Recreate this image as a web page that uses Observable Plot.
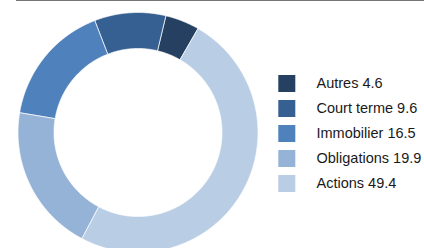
<!DOCTYPE html>
<html>
<head>
<meta charset="utf-8">
<script src="https://cdn.jsdelivr.net/npm/d3@7"></script>
<script src="https://cdn.jsdelivr.net/npm/@observablehq/plot@0.6"></script>
<style>
  html, body { margin: 0; padding: 0; background: #fff; }
  #wrap { position: relative; width: 424px; height: 248px; overflow: hidden; background: #fff; }
  #topline { position: absolute; left: 16px; top: 0; width: 408px; height: 0; border-top: 1.5px solid #767676; }
  #pie, #legend { position: absolute; top: 0; }
  #pie { left: 0; }
  #legend { left: 270px; }
</style>
</head>
<body>
<div id="wrap">
  <div id="pie"></div>
  <div id="legend"></div>
  <div id="topline"></div>
</div>
<script>
const categories = ["Autres", "Court terme", "Immobilier", "Obligations", "Actions"];
const values = [4.6, 9.6, 16.5, 19.9, 49.4];
const palette = ["#254061", "#376092", "#4F81BD", "#95B3D7", "#B9CDE5"];

const startAngle = 30;     // degrees clockwise from top
const innerRatio = 0.7;
const total = d3.sum(values);

// Build slice polygons (counter-clockwise from startAngle, in category order)
const pts = [];
let cum = 0;
categories.forEach((cat, i) => {
  const a0 = startAngle - cum / total * 360;
  const a1 = startAngle - (cum + values[i]) / total * 360;
  cum += values[i];
  const n = Math.max(4, Math.ceil(Math.abs(a1 - a0) * 2));
  const poly = [];
  for (let k = 0; k <= n; k++) {
    const a = (a0 + (a1 - a0) * k / n) * Math.PI / 180;
    poly.push({cat, x: Math.sin(a), y: Math.cos(a)});
  }
  for (let k = n; k >= 0; k--) {
    const a = (a0 + (a1 - a0) * k / n) * Math.PI / 180;
    poly.push({cat, x: innerRatio * Math.sin(a), y: innerRatio * Math.cos(a)});
  }
  poly.push({...poly[0]});
  pts.push(...poly);
});

const cx = 137.5, cy = 132, R = 120;
const pie = Plot.plot({
  width: 270,
  height: 248,
  margin: 0,
  style: {background: "transparent"},
  x: {domain: [-1, 1], range: [cx - R, cx + R], axis: null},
  y: {domain: [-1, 1], range: [cy + R, cy - R], axis: null},
  color: {domain: categories, range: palette},
  marks: [
    Plot.line(pts, {x: "x", y: "y", z: "cat", fill: "cat", stroke: "white", strokeWidth: 0.7, curve: "linear"})
  ]
});
document.getElementById("pie").appendChild(pie);

const legendRows = categories.map((c, i) => ({cat: c, label: `${c} ${values[i]}`}));
const legend = Plot.plot({
  width: 154,
  height: 248,
  margin: 0,
  style: {background: "transparent", fontFamily: "'Liberation Sans', Arial, sans-serif", fontSize: "14.5px", color: "#1a1a1a"},
  y: {type: "point", domain: categories, range: [81.5, 183.5], padding: 0, axis: null},
  color: {domain: categories, range: palette},
  marks: [
    Plot.dot(legendRows, {y: "cat", fill: "cat", symbol: "square", r: 9.6, frameAnchor: "left", dx: 16.3, stroke: null}),
    Plot.text(legendRows, {y: "cat", text: "label", frameAnchor: "left", dx: 46, textAnchor: "start", fill: "#1a1a1a", fontSize: 14.5})
  ]
});
document.getElementById("legend").appendChild(legend);
</script>
</body>
</html>
